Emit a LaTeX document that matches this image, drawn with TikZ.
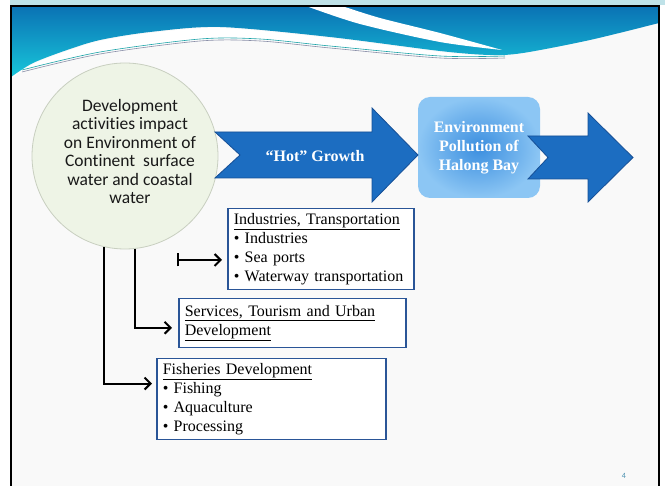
\documentclass[tikz,border=0pt]{standalone}
\usepackage{fontspec}
\setmainfont{Liberation Serif}
\newfontfamily\carlito[Ligatures={NoCommon,NoContextual}]{Carlito}
\usetikzlibrary{arrows.meta,calc}
\definecolor{hdrA}{HTML}{0A72B4}
\definecolor{hdrB}{HTML}{18C6DA}
\definecolor{slidebg}{HTML}{F9F9F9}
\definecolor{topstrip}{HTML}{BFE2E8}
\definecolor{circfill}{HTML}{EEF4E6}
\definecolor{circline}{HTML}{C8CFC0}
\definecolor{arrfill}{HTML}{1C6DC1}
\definecolor{arrline}{HTML}{164F96}
\definecolor{envin}{HTML}{3B8EDF}
\definecolor{envout}{HTML}{8CC6F4}
\definecolor{boxline}{HTML}{2A5597}
\definecolor{linteal}{HTML}{1BA3A8}
\definecolor{lingrey}{HTML}{8A8FA8}
\definecolor{numcol}{HTML}{4A90B0}
\tikzset{
  bigarrow/.style={fill=arrfill, draw=arrline, line width=0.8pt},
  infobox/.style={draw=boxline, line width=1.5pt, fill=white, anchor=north west,
    align=left, inner xsep=6pt, inner ysep=0pt, font=\fontsize{16}{19}\selectfont},
  conn/.style={line width=2pt, -{Straight Barb[length=6pt,width=12pt]}},
  whitetext/.style={text=white, font=\bfseries\fontsize{16}{19}\selectfont, align=center}
}
\begin{document}
\begin{tikzpicture}[x=1pt,y=-1pt]
\useasboundingbox (0,0) rectangle (665,486);
% background
\fill[white] (0,0) rectangle (665,486);
\fill[topstrip] (10,0) rectangle (665,5);
\fill[slidebg] (11,6) rectangle (659,495);
% header wave
\shade[top color=hdrA, bottom color=hdrB] (11,6) -- (659,6) --
  plot[smooth] coordinates {(659,23) (590,40) (523,53) (490,55) (440,51) (330,37) (220,27) (150,32) (100,40) (67,50) (33,63) (11,77)}
  -- cycle;
\fill[white] plot[smooth] coordinates {(306,6) (360,24) (440,42) (502,50)}
  -- plot[smooth] coordinates {(502,50) (440,33) (380,18) (342,6)} -- cycle;
\fill[white] plot[smooth] coordinates {(11,78) (33,64) (67,51) (100,41) (150,33) (220,28) (330,38) (440,52) (490,56)}
  -- plot[smooth] coordinates {(490,57) (440,57) (330,47) (260,40) (200,40) (100,53) (30,68) (11,80)} -- cycle;
\draw[lingrey, line width=0.6pt] plot[smooth] coordinates {(22,72) (100,54) (200,41) (260,41) (330,48) (440,58) (505,58)};
\draw[linteal, line width=0.6pt] plot[smooth] coordinates {(22,70) (100,52) (200,39) (260,39) (330,46) (440,56) (505,56)};
% frame
\draw[black, line width=2.5pt] (11,495) -- (11,6) -- (659,6) -- (659,495);
% circle
\node[circle, minimum size=186pt, inner sep=0pt, fill=circfill, draw=circline, line width=0.8pt] (c) at (125,156) {};
\node[align=center, text=black!90, font=\carlito\fontsize{17.5}{18.5}\selectfont] (ct) at (130,151.5)
  {Development\\activities impact\\on Environment of\\Continent\ \ surface\\water and coastal\\water};
% environment box
\node[rounded corners=12pt, minimum width=122pt, minimum height=101pt, inner color=envin, outer color=envout] (envbox) at (479,147.5) {};
\node[whitetext] (envtext) at (479,147.5) {Environment\\Pollution of\\Halong Bay};
% big arrows
\fill[bigarrow] (215,132) -- (372,132) -- (372,108) -- (418,155) -- (372,202) -- (372,178) -- (215,178) -- (240,155) -- cycle;
\node[whitetext] (hot) at (315,156) {“Hot” Growth};
\fill[bigarrow] (528,136) -- (588,136) -- (588,113) -- (633,157.5) -- (588,202) -- (588,179) -- (528,179) -- (548,157.5) -- cycle;
% info boxes
\node[infobox, text width=174pt, minimum height=81pt] (b1) at (227,208)
  {\underline{Industries, Transportation}\\• Industries\\• Sea ports\\• Waterway transportation};
\node[infobox, text width=215pt, minimum height=49pt] (b2) at (178,298)
  {\underline{Services, Tourism and Urban}\\\underline{Development}};
\node[infobox, text width=217pt, minimum height=81pt] (b3) at (156,358)
  {\underline{Fisheries Development}\\• Fishing\\• Aquaculture\\• Processing};
% connectors
\coordinate (t) at (177,260);
\draw[line width=2pt, {Bar[width=13pt]}-{Straight Barb[length=6pt,width=12pt]}, shorten >=5pt] (t) -- (t -| b1.west);
\draw[conn, shorten >=6pt] (c.-84) |- ($(b2.north west)!0.59!(b2.south west)$);
\draw[conn, shorten >=4pt] (c.-103) |- ($(b3.north west)!0.31!(b3.south west)$);
% page number
\node[text=numcol, font=\carlito\fontsize{8}{9}\selectfont] (pg) at (624,476) {4};
\end{tikzpicture}
\end{document}
